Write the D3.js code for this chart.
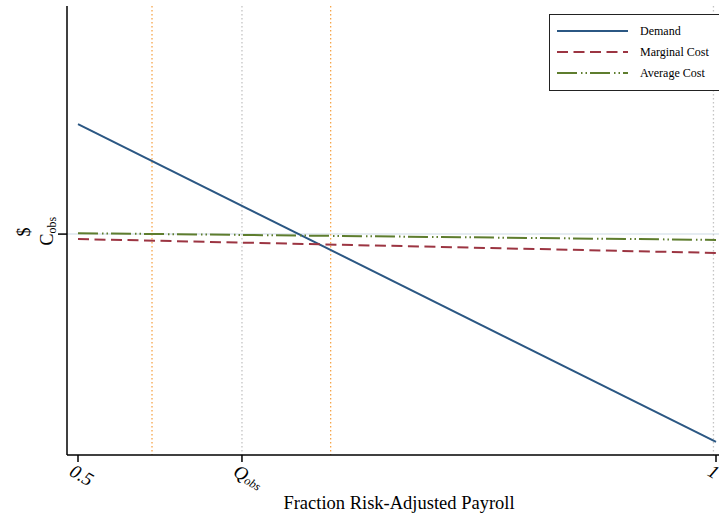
<!DOCTYPE html>
<html>
<head>
<meta charset="utf-8">
<script src="https://cdn.jsdelivr.net/npm/d3@7"></script>
<style>
  body { margin: 0; background: #fff; }
  svg { display: block; font-family: "Liberation Serif", "Times New Roman", serif; }
</style>
</head>
<body>
<svg id="chart" width="719" height="516"></svg>
<script>
// ---- data ----
const xEnds = [0.5, 1.0];
const demand = [0.737, 0.029];
const marginalCost = [0.481, 0.450];
const averageCost = [0.494, 0.479];
const cObs = 0.492;
const orangeRefs = [0.558, 0.698];
const grayRefs = [0.6285, 0.998];
const xTickValues = [0.5, 0.6285, 1.0];
const xTickLabels = ["0.5", "Q_obs", "1"];
const seriesNames = ["Demand", "Marginal Cost", "Average Cost"];

// ---- layout ----
const svg = d3.select("#chart");
const axisX = 67, axisY = 455, topY = 6, rightX = 719;
const x = d3.scaleLinear().domain([0.5, 1.0]).range([78, 716]);
const y = d3.scaleLinear().domain([0, 1]).range([455, 6]);

const styles = [
  { color: "#2b5783", dash: null },
  { color: "#9c3542", dash: "11,5.5" },
  { color: "#5e7d2e", dash: "20,4,1.5,3,1.5,3" }
];
const seriesData = [demand, marginalCost, averageCost];

// horizontal reference at C_obs
svg.append("line")
  .attr("x1", axisX).attr("x2", rightX)
  .attr("y1", y(cObs)).attr("y2", y(cObs))
  .attr("stroke", "#dde6ee").attr("stroke-width", 1.5);

// vertical dotted reference lines
orangeRefs.forEach(v => {
  svg.append("line")
    .attr("x1", x(v)).attr("x2", x(v))
    .attr("y1", topY).attr("y2", axisY)
    .attr("stroke", "#f6a54a").attr("stroke-width", 1.3)
    .attr("stroke-dasharray", "1.5,2.5");
});
grayRefs.forEach(v => {
  svg.append("line")
    .attr("x1", x(v)).attr("x2", x(v))
    .attr("y1", topY).attr("y2", axisY)
    .attr("stroke", "#c4c4c4").attr("stroke-width", 1.3)
    .attr("stroke-dasharray", "1.5,2.5");
});

// series lines
const line = d3.line().x(d => x(d[0])).y(d => y(d[1]));
seriesData.forEach((vals, i) => {
  const pts = xEnds.map((xv, j) => [xv, vals[j]]);
  svg.append("path")
    .datum(pts)
    .attr("d", line)
    .attr("fill", "none")
    .attr("stroke", styles[i].color)
    .attr("stroke-width", 2)
    .attr("stroke-dasharray", styles[i].dash);
});

// axes
svg.append("line")
  .attr("x1", axisX).attr("x2", rightX)
  .attr("y1", axisY).attr("y2", axisY)
  .attr("stroke", "#000").attr("stroke-width", 1.5);
svg.append("line")
  .attr("x1", axisX).attr("x2", axisX)
  .attr("y1", topY).attr("y2", axisY)
  .attr("stroke", "#000").attr("stroke-width", 1.5);

// x ticks
xTickValues.forEach((v, i) => {
  const px = x(v);
  svg.append("line")
    .attr("x1", px).attr("x2", px)
    .attr("y1", axisY).attr("y2", axisY + 7)
    .attr("stroke", "#000").attr("stroke-width", 1.5);
  const t = svg.append("text")
    .attr("transform", `translate(${px - 3},${axisY + 8}) rotate(30)`)
    .attr("font-size", 19)
    .attr("font-style", "italic")
    .attr("dominant-baseline", "hanging")
    .attr("fill", "#000");
  const lab = xTickLabels[i];
  if (lab.includes("_")) {
    const [base, sub] = lab.split("_");
    t.append("tspan").text(base);
    t.append("tspan").attr("font-size", 12).attr("dy", 6).text(sub);
  } else {
    t.text(lab);
  }
});

// y tick at C_obs
svg.append("line")
  .attr("x1", axisX - 9).attr("x2", axisX)
  .attr("y1", y(cObs)).attr("y2", y(cObs))
  .attr("stroke", "#000").attr("stroke-width", 1.5);
svg.append("text")
  .attr("transform", `translate(30,${y(cObs) - 2}) rotate(-90)`)
  .attr("text-anchor", "middle")
  .attr("font-size", 18)
  .text("$");
const cl = svg.append("text")
  .attr("transform", `translate(53,${y(cObs) - 3}) rotate(-90)`)
  .attr("text-anchor", "middle")
  .attr("font-size", 18);
cl.append("tspan").text("C");
cl.append("tspan").attr("font-size", 12).attr("dy", 3).text("obs");

// x axis title
svg.append("text")
  .attr("x", 399).attr("y", 509)
  .attr("text-anchor", "middle")
  .attr("font-size", 18.5)
  .text("Fraction Risk-Adjusted Payroll");

// legend
const lg = svg.append("g");
lg.append("rect")
  .attr("x", 549.5).attr("y", 14.5)
  .attr("width", 172).attr("height", 76)
  .attr("fill", "#fff").attr("stroke", "#222").attr("stroke-width", 1);
seriesNames.forEach((name, i) => {
  const yy = 31 + i * 21;
  lg.append("line")
    .attr("x1", 557).attr("x2", 628)
    .attr("y1", yy).attr("y2", yy)
    .attr("stroke", styles[i].color).attr("stroke-width", 2)
    .attr("stroke-dasharray", styles[i].dash);
  lg.append("text")
    .attr("x", 640).attr("y", yy + 4)
    .attr("font-size", 12)
    .text(name);
});
</script>
</body>
</html>
